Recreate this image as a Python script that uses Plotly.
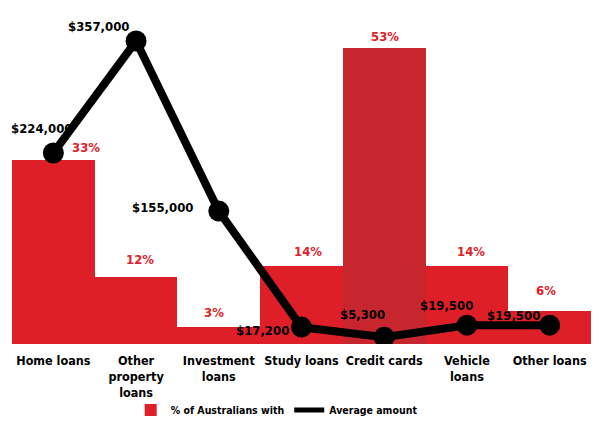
import plotly.graph_objects as go

# data
categories = ["Home loans", "Other property loans", "Investment loans", "Study loans",
              "Credit cards", "Vehicle loans", "Other loans"]
tick_labels = ["Home loans", "Other<br>property<br>loans", "Investment<br>loans", "Study loans",
               "Credit cards", "Vehicle<br>loans", "Other loans"]
pct_with = [33, 12, 3, 14, 53, 14, 6]
avg_amount = [224000, 357000, 155000, 17200, 5300, 19500, 19500]
amount_labels = ["$224,000", "$357,000", "$155,000", "$17,200", "$5,300", "$19,500", "$19,500"]

FONT = "DejaVu Sans Condensed, sans-serif"
RED = "#df1f27"
bar_colors = [RED, RED, RED, RED, "#c7262e", RED, RED]


def f(size, color="black"):
    return dict(family=FONT, size=size, color=color, weight="bold")


fig = go.Figure()

fig.add_trace(go.Bar(
    x=categories, y=pct_with,
    name="% of Australians with",
    marker=dict(color=bar_colors, line=dict(width=0)),
    yaxis="y",
))

fig.add_trace(go.Scatter(
    x=categories, y=avg_amount,
    mode="lines+markers",
    line=dict(color="black", width=8),
    marker=dict(color="black", size=21),
    yaxis="y2",
    showlegend=False,
))

# legend entry for the line without the marker
fig.add_trace(go.Scatter(
    x=[None], y=[None], name="Average amount", mode="lines",
    line=dict(color="black", width=5), yaxis="y2",
))

# percentage labels above the bars
pct_shift = [(33, 12), (4, 18), (-5, 15), (6, 14), (1, 12), (4, 14), (-4, 20)]
for cat, v, (dx, dy) in zip(categories, pct_with, pct_shift):
    fig.add_annotation(x=cat, y=v, yref="y", text=f"{v}%", showarrow=False,
                       xshift=dx, yshift=dy, font=f(13, "#e0202a"))

# amount labels next to the line markers
amt_shift = [(-12, 24), (-38, 15), (-56, 4), (-39, -3), (-22, 23), (-20, 20), (-36, 10)]
for cat, v, t, (dx, dy) in zip(categories, avg_amount, amount_labels, amt_shift):
    fig.add_annotation(x=cat, y=v, yref="y2", text=t, showarrow=False,
                       xshift=dx, yshift=dy, font=f(13))

# page body has an 8px margin, so the figure is drawn 8px in from the top-left
fig.update_layout(
    width=583, height=409,
    margin=dict(l=4, r=0, t=1, b=73, autoexpand=False),
    paper_bgcolor="white", plot_bgcolor="white",
    bargap=0,
    font=dict(family=FONT, color="black"),
    showlegend=True,
    legend=dict(orientation="h", x=0.205, xanchor="left", y=-0.197, yanchor="middle",
                font=f(10.5), itemwidth=30, bgcolor="rgba(0,0,0,0)"),
    xaxis=dict(tickmode="array", tickvals=categories, ticktext=tick_labels,
               range=[-0.5, 6.5], tickangle=0, automargin=False, tickfont=f(12.5),
               ticklabelstandoff=7,
               showgrid=False, showline=False, zeroline=False, ticks=""),
    yaxis=dict(range=[0, 60], visible=False, showgrid=False, fixedrange=True),
    yaxis2=dict(range=[-2850, 395000], overlaying="y", side="right", visible=False,
                showgrid=False),
)

fig.write_html("out.html")
